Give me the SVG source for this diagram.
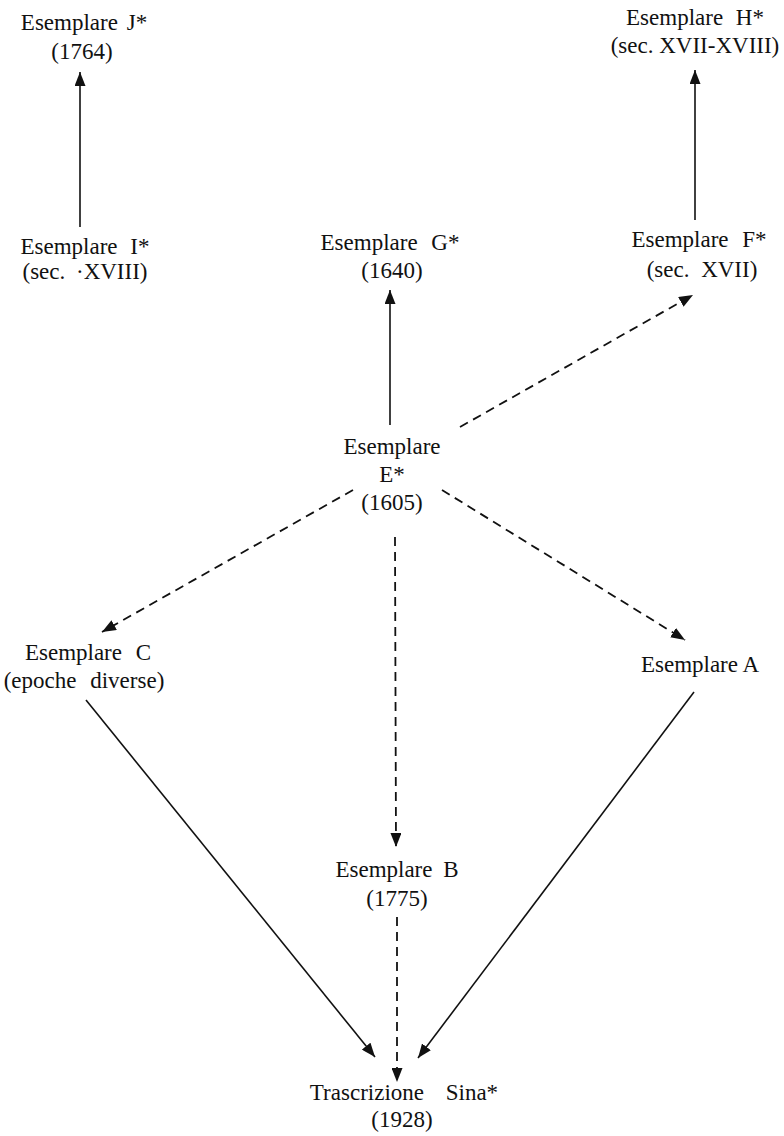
<svg xmlns="http://www.w3.org/2000/svg" width="784" height="1136" viewBox="0 0 784 1136">
<style>
text{font-family:"Liberation Serif","Times New Roman",serif;font-size:23px;fill:#111;text-anchor:middle}
.s{stroke:#111;stroke-width:1.6;fill:none}
.d{stroke:#111;stroke-width:1.8;fill:none;stroke-dasharray:9 6}
</style>
<defs>
<marker id="ah" markerUnits="userSpaceOnUse" markerWidth="15" markerHeight="11" refX="14" refY="5.5" orient="auto">
<path d="M0,0 L14,5.5 L0,11 z" fill="#111"/>
</marker>
</defs>
<rect width="784" height="1136" fill="#fff"/>
<g id="connectors">
<line class="s" x1="80" y1="227" x2="80" y2="72" marker-end="url(#ah)"/>
<line class="s" x1="695" y1="220" x2="695" y2="70" marker-end="url(#ah)"/>
<line class="s" x1="390" y1="425" x2="390" y2="290" marker-end="url(#ah)"/>
<line class="d" x1="460" y1="427" x2="693" y2="295" marker-end="url(#ah)"/>
<line class="d" x1="353" y1="490" x2="102" y2="632" marker-end="url(#ah)"/>
<line class="d" x1="442" y1="490" x2="685" y2="640" marker-end="url(#ah)"/>
<line class="d" x1="395" y1="537" x2="396" y2="847" marker-end="url(#ah)"/>
<line class="d" x1="397" y1="917" x2="397" y2="1082" marker-end="url(#ah)"/>
<line class="s" x1="86" y1="700" x2="375" y2="1057" marker-end="url(#ah)"/>
<line class="s" x1="694" y1="692" x2="418" y2="1058" marker-end="url(#ah)"/>
</g>
<g id="node-J">
<text x="84" y="30" word-spacing="3">Esemplare J*</text>
<text x="82" y="59">(1764)</text>
</g>
<g id="node-H">
<text x="695" y="25" word-spacing="7">Esemplare H*</text>
<text x="695" y="53">(sec. XVII-XVIII)</text>
</g>
<g id="node-I">
<text x="85" y="254" word-spacing="7">Esemplare I*</text>
<text x="85" y="279" word-spacing="5">(sec. ·XVIII)</text>
</g>
<g id="node-G">
<text x="390" y="250" word-spacing="8">Esemplare G*</text>
<text x="392" y="278">(1640)</text>
</g>
<g id="node-F">
<text x="699" y="247" word-spacing="8">Esemplare F*</text>
<text x="702" y="277" word-spacing="6">(sec. XVII)</text>
</g>
<g id="node-E">
<text x="392" y="454">Esemplare</text>
<text x="392" y="482">E*</text>
<text x="392" y="510">(1605)</text>
</g>
<g id="node-C">
<text x="88" y="660" word-spacing="8">Esemplare C</text>
<text x="84" y="688" word-spacing="8">(epoche diverse)</text>
</g>
<g id="node-A">
<text x="700" y="672">Esemplare A</text>
</g>
<g id="node-B">
<text x="397" y="877" word-spacing="5">Esemplare B</text>
<text x="397" y="906">(1775)</text>
</g>
<g id="node-Sina">
<text x="404" y="1100" word-spacing="16">Trascrizione Sina*</text>
<text x="402" y="1127">(1928)</text>
</g>
</svg>
